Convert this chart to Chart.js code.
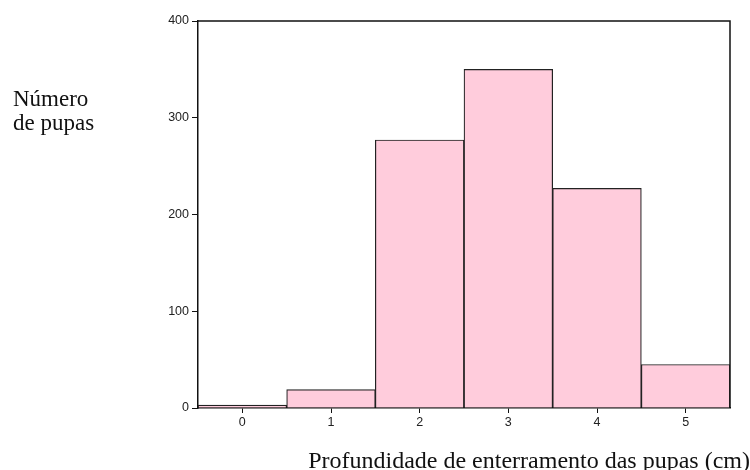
<!DOCTYPE html>
<html>
<head>
<meta charset="utf-8">
<script src="https://cdn.jsdelivr.net/npm/chart.js@4"></script>
<style>
  html, body { margin: 0; padding: 0; background: #fff; }
  #wrap { position: relative; width: 750px; height: 470px; }
  canvas { position: absolute; left: 0; top: 0; }
  .title { position: absolute; font-family: 'Liberation Serif', 'Times New Roman', serif; color: #111; white-space: nowrap; }
  #ytitle { left: 13px; top: 87px; font-size: 23px; line-height: 24px; }
  #xtitle { right: 0px; top: 446px; font-size: 24px; line-height: 28px; }
</style>
</head>
<body>
<div id="wrap">
  <canvas id="c" width="750" height="470"></canvas>
  <div class="title" id="ytitle">Número<br>de pupas</div>
  <div class="title" id="xtitle">Profundidade de enterramento das pupas (cm)</div>
</div>
<script>
// Burial depth classes (cm) and number of pupae in each
const depths = ['0', '1', '2', '3', '4', '5'];
const pupae = [3, 19, 277, 350, 227, 45];
const yTicks = [0, 100, 200, 300, 400];

const tickFont = { family: "'Liberation Sans', Arial, sans-serif", size: 12.5 };

// Closes the plot frame on the top and right sides
const frame = {
  id: 'frame',
  afterDatasetsDraw(chart) {
    const { ctx, chartArea: a } = chart;
    ctx.save();
    ctx.strokeStyle = '#111';
    ctx.lineWidth = 1.5;
    ctx.beginPath();
    ctx.moveTo(a.left, a.top);
    ctx.lineTo(a.right, a.top);
    ctx.lineTo(a.right, a.bottom);
    ctx.stroke();
    ctx.restore();
  }
};

new Chart(document.getElementById('c'), {
  type: 'bar',
  data: {
    labels: depths,
    datasets: [{
      data: pupae,
      backgroundColor: '#ffccdc',
      borderColor: '#222',
      borderWidth: 1.2,
      borderSkipped: 'bottom',
      barPercentage: 1,
      categoryPercentage: 1
    }]
  },
  options: {
    responsive: false,
    animation: false,
    layout: { padding: { top: 21, right: 20, left: 0, bottom: 0 } },
    plugins: { legend: { display: false }, tooltip: { enabled: false } },
    scales: {
      x: {
        grid: { display: true, offset: false, drawOnChartArea: false, drawTicks: true, tickLength: 5, color: '#111' },
        border: { display: true, color: '#111', width: 1.5 },
        ticks: { font: tickFont, color: '#222', padding: 2, maxRotation: 0 },
        afterFit(scale) { scale.height = 62; }
      },
      y: {
        min: 0,
        max: 400,
        afterBuildTicks(scale) { scale.ticks = yTicks.map(v => ({ value: v })); },
        grid: { display: true, drawOnChartArea: false, drawTicks: true, tickLength: 6, color: '#111' },
        border: { display: true, color: '#111', width: 1.5 },
        ticks: { font: tickFont, color: '#222', padding: 3 },
        afterFit(scale) { scale.width = 198; }
      }
    }
  },
  plugins: [frame]
});
</script>
</body>
</html>
